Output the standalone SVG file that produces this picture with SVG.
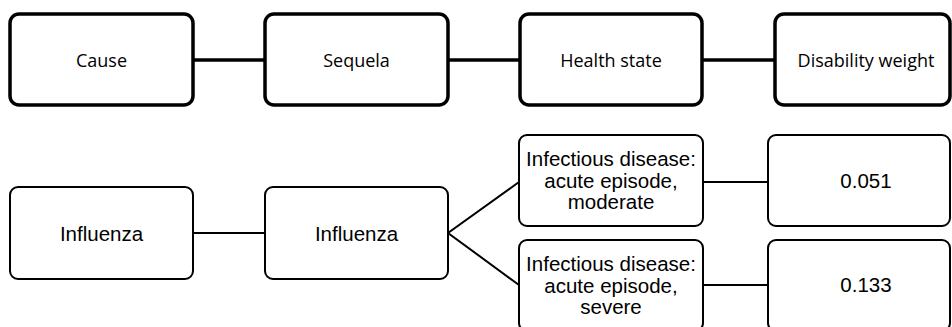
<svg xmlns="http://www.w3.org/2000/svg" width="952" height="327" viewBox="0 0 952 327">
<style>
.top rect{fill:#fff;stroke:#000;stroke-width:3.5}
.bot rect{fill:#fff;stroke:#000;stroke-width:2}
.tt{font-family:"Open Sans","Noto Sans",sans-serif;font-size:18px;fill:#000;text-anchor:middle}
.bt{font-family:"Liberation Sans",Arial,sans-serif;font-size:20.5px;fill:#000;text-anchor:middle}
.ct{stroke:#000;stroke-width:3.5;fill:none}
.cb{stroke:#000;stroke-width:2;fill:none}
</style>
<rect width="952" height="327" fill="#fff"/>
<g id="connectors">
<line class="ct" x1="193" y1="60" x2="265" y2="60"/>
<line class="ct" x1="448" y1="60" x2="520" y2="60"/>
<line class="ct" x1="702" y1="60" x2="775" y2="60"/>
<line class="cb" x1="193" y1="233" x2="265" y2="233"/>
<polyline class="cb" points="519,182 448,233 519,285"/>
<line class="cb" x1="703" y1="182" x2="768" y2="182"/>
<line class="cb" x1="703" y1="285" x2="768" y2="285"/>
</g>
<g id="cause" class="top"><rect x="10" y="14" width="183" height="91" rx="9"/><text class="tt" x="101.5" y="66.5">Cause</text></g>
<g id="sequela" class="top"><rect x="265" y="14" width="183" height="91" rx="9"/><text class="tt" x="356.5" y="66.5">Sequela</text></g>
<g id="health-state" class="top"><rect x="520" y="14" width="182" height="91" rx="9"/><text class="tt" x="611" y="66.5">Health state</text></g>
<g id="disability-weight" class="top"><rect x="775" y="14" width="175" height="91" rx="9"/><text class="tt" x="866" y="66.5">Disability weight</text></g>
<g id="influenza-cause" class="bot"><rect x="10" y="187" width="183" height="92" rx="8"/><text class="bt" x="101.5" y="240.5">Influenza</text></g>
<g id="influenza-sequela" class="bot"><rect x="265" y="187" width="183" height="92" rx="8"/><text class="bt" x="356.5" y="240.5">Influenza</text></g>
<g id="moderate" class="bot"><rect x="519" y="135" width="184" height="91" rx="8"/>
<text class="bt" x="611" y="166">Infectious disease:</text>
<text class="bt" x="611" y="187.5">acute episode,</text>
<text class="bt" x="611" y="209">moderate</text></g>
<g id="severe" class="bot"><rect x="519" y="240" width="184" height="91" rx="8"/>
<text class="bt" x="611" y="271">Infectious disease:</text>
<text class="bt" x="611" y="292.5">acute episode,</text>
<text class="bt" x="611" y="314">severe</text></g>
<g id="dw-moderate" class="bot"><rect x="768" y="135" width="182" height="91" rx="8"/><text class="bt" x="866" y="188">0.051</text></g>
<g id="dw-severe" class="bot"><rect x="768" y="240" width="182" height="91" rx="8"/><text class="bt" x="866" y="292">0.133</text></g>
</svg>
